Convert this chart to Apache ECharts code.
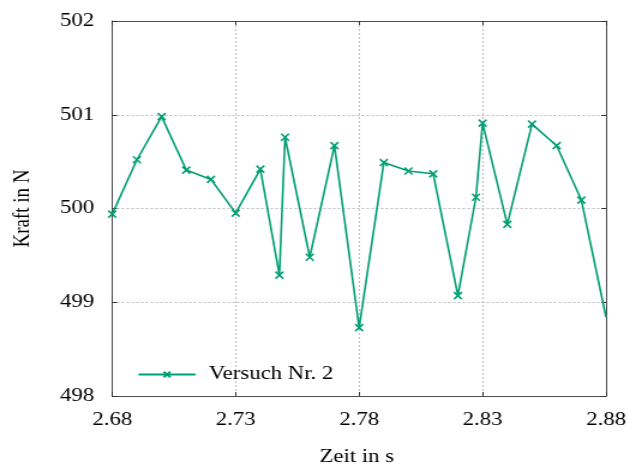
<!DOCTYPE html>
<html>
<head>
<meta charset="utf-8">
<script src="https://cdn.jsdelivr.net/npm/echarts@6/dist/echarts.min.js"></script>
<style>
  html, body { margin: 0; padding: 0; background: #fff; overflow: hidden; }
  /* the figure is laid out narrow and widened by 1.2 horizontally */
  #chart { width: 523.33px; height: 467px; transform: scaleX(1.2); transform-origin: 0 0; }
</style>
</head>
<body>
<div id="chart"></div>
<script>
// Force measurement, trial no. 2
const zeit = [2.68, 2.69, 2.70, 2.71, 2.72, 2.73, 2.74, 2.7477, 2.75, 2.76, 2.77, 2.78,
              2.79, 2.80, 2.81, 2.82, 2.8273, 2.83, 2.84, 2.85, 2.86, 2.87, 2.88];
const kraft = [499.94, 500.52, 500.98, 500.41, 500.31, 499.95, 500.42, 499.29, 500.76, 499.48, 500.67, 498.73,
               500.49, 500.40, 500.37, 499.07, 500.12, 500.91, 499.83, 500.90, 500.67, 500.09, 498.84];
const seriesName = 'Versuch Nr. 2';
const xTicks = { min: 2.68, max: 2.88, step: 0.05 };
const yTicks = { min: 498, max: 502, step: 1 };

const green = '#009e73';
const font = 'Liberation Serif, Times New Roman, serif';
const crossPath = 'path://M0,0L10,10M10,0L0,10';

const points = zeit.map((t, i) => {
  const p = { value: [t, kraft[i]] };
  // last sample sits on the frame edge; the frame clips its marker
  if (i === zeit.length - 1) p.symbol = 'none';
  return p;
});

const gridLine = { show: true, lineStyle: { color: '#bdbdbd', type: [2, 2], width: 1 } };
const frame = { show: true, onZero: false, lineStyle: { color: '#4d4d4d', width: 1 } };
const tick = { show: true, inside: true, length: 4, lineStyle: { color: '#333', width: 1 } };

const el = document.getElementById('chart');
const chart = echarts.init(el, null, { renderer: 'canvas', width: 523.33, height: 467 });
chart.setOption({
  animation: false,
  backgroundColor: '#fff',
  textStyle: { fontFamily: font },
  grid: { left: 93.5, right: 18.3, top: 21, bottom: 71, containLabel: false, outerBoundsMode: 'none' },
  legend: {
    data: [seriesName],
    left: 114.4, top: 365, padding: 0,
    itemWidth: 47.5, itemHeight: 7, itemGap: 10,
    textStyle: { fontFamily: font, fontSize: 19, color: '#000', padding: [0, 0, 0, 6] }
  },
  xAxis: [{
    type: 'value', min: xTicks.min, max: xTicks.max, interval: xTicks.step,
    position: 'bottom',
    name: 'Zeit in s', nameLocation: 'middle', nameGap: 52,
    nameTextStyle: { fontFamily: font, fontSize: 19, color: '#000', padding: [0, 4, 0, 0] },
    axisLine: frame, axisTick: tick, splitLine: gridLine,
    axisLabel: { fontFamily: font, fontSize: 19, color: '#000', margin: 15,
                 formatter: v => v.toFixed(2) }
  }, {
    type: 'value', min: xTicks.min, max: xTicks.max, interval: xTicks.step,
    position: 'top',
    axisLine: frame, axisTick: tick, splitLine: { show: false }, axisLabel: { show: false }
  }],
  yAxis: [{
    type: 'value', min: yTicks.min, max: yTicks.max, interval: yTicks.step,
    position: 'left',
    name: 'Kraft in N', nameLocation: 'middle', nameGap: 65, nameRotate: 90,
    nameTextStyle: { fontFamily: font, fontSize: 19, color: '#000' },
    axisLine: frame, axisTick: tick, splitLine: gridLine,
    axisLabel: { fontFamily: font, fontSize: 19, color: '#000', margin: 15 }
  }, {
    type: 'value', min: yTicks.min, max: yTicks.max, interval: yTicks.step,
    position: 'right',
    axisLine: frame, axisTick: tick, splitLine: { show: false }, axisLabel: { show: false }
  }],
  series: [{
    name: seriesName,
    type: 'line',
    data: points,
    symbol: crossPath,
    symbolSize: [6.5, 7],
    showAllSymbol: true,
    clip: true,
    lineStyle: { color: green, width: 1.6 },
    itemStyle: { color: 'transparent', borderColor: green, borderWidth: 1.6 },
    emphasis: { disabled: true }
  }]
});
</script>
</body>
</html>
